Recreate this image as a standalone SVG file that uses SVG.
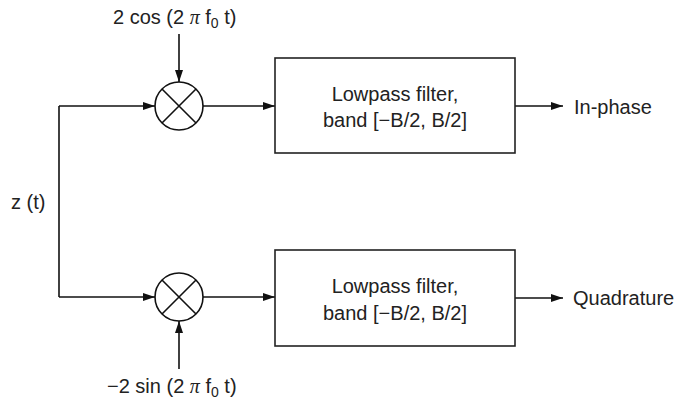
<svg xmlns="http://www.w3.org/2000/svg" width="679" height="402" viewBox="0 0 679 402">
<defs>
<marker id="ah" viewBox="0 0 12 8" refX="12" refY="4" markerWidth="12" markerHeight="8" markerUnits="userSpaceOnUse" orient="auto">
<path d="M0,0 L12,4 L0,8 Z" fill="#111"/>
</marker>
<style>
.t{font-family:"Liberation Sans",Arial,sans-serif;font-size:20px;fill:#222}
.c{text-anchor:middle}
.pi{font-family:"Liberation Serif","DejaVu Serif",serif;font-style:italic}
.sub{font-size:14px}
.ln{stroke:#111;stroke-width:1.6;fill:none}
.box{stroke:#222;stroke-width:1.6;fill:#fff}
</style>
</defs>
<rect width="679" height="402" fill="#fff"/>
<g id="connectors">
<path class="ln" d="M179,34 V82" marker-end="url(#ah)"/>
<path class="ln" d="M179,369 V321" marker-end="url(#ah)"/>
<path class="ln" d="M59,106 H155" marker-end="url(#ah)"/>
<path class="ln" d="M59,106 V297"/>
<path class="ln" d="M59,297 H155" marker-end="url(#ah)"/>
<path class="ln" d="M203,106 H275" marker-end="url(#ah)"/>
<path class="ln" d="M203,297 H275" marker-end="url(#ah)"/>
<path class="ln" d="M515,106 H563" marker-end="url(#ah)"/>
<path class="ln" d="M515,298 H563" marker-end="url(#ah)"/>
</g>
<g id="mixer-top">
<circle cx="179" cy="106" r="24" class="ln"/>
<path class="ln" d="M162,89 L196,123 M196,89 L162,123"/>
</g>
<g id="mixer-bottom">
<circle cx="179" cy="297" r="24" class="ln"/>
<path class="ln" d="M162,280 L196,314 M196,280 L162,314"/>
</g>
<g id="lpf-top">
<rect class="box" x="275" y="58" width="240" height="95"/>
<text class="t c" x="395" y="101">Lowpass filter,</text>
<text class="t c" x="395" y="127">band [−B/2, B/2]</text>
</g>
<g id="lpf-bottom">
<rect class="box" x="275" y="250" width="240" height="96"/>
<text class="t c" x="395" y="293">Lowpass filter,</text>
<text class="t c" x="395" y="320">band [−B/2, B/2]</text>
</g>
<g id="label-cos">
<text class="t" x="113" y="24">2 cos (2 <tspan class="pi">π</tspan> f<tspan class="sub" dy="4">0</tspan><tspan dy="-4"> t)</tspan></text>
</g>
<g id="label-sin">
<text class="t" x="107" y="393">−2 sin (2 <tspan class="pi">π</tspan> f<tspan class="sub" dy="4">0</tspan><tspan dy="-4"> t)</tspan></text>
</g>
<g id="label-z">
<text class="t" x="11" y="209">z (t)</text>
</g>
<g id="out-i">
<text class="t" x="574" y="114">In-phase</text>
</g>
<g id="out-q">
<text class="t" x="573" y="305">Quadrature</text>
</g>
</svg>
